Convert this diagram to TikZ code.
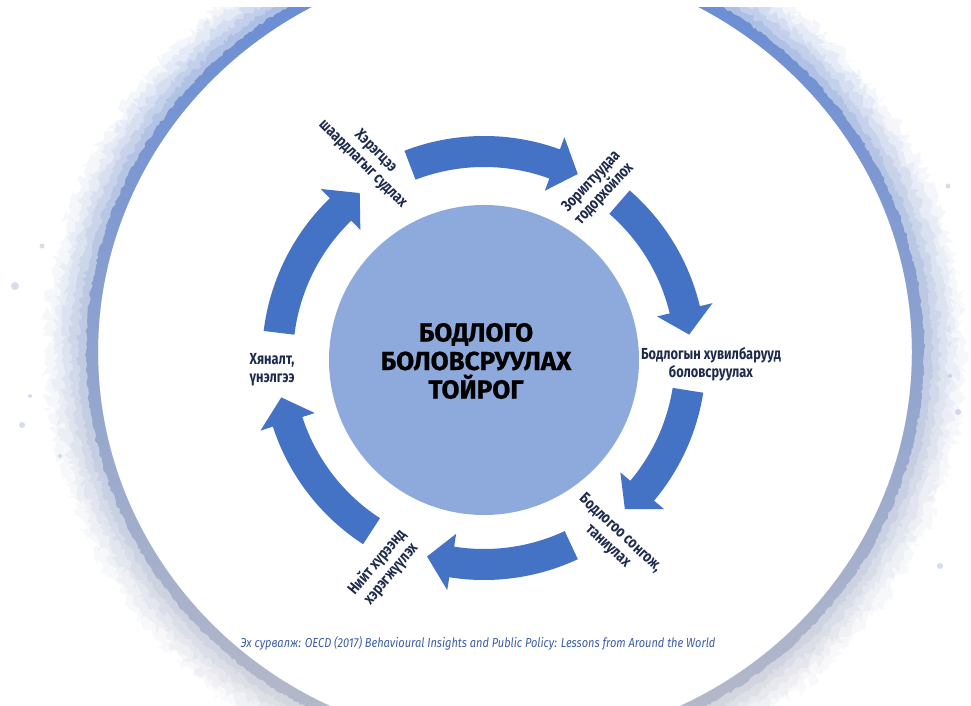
\documentclass[tikz,border=0pt]{standalone}
\usepackage{fontspec}
\setmainfont{Fira Sans}
\newfontfamily\srcfont{Fira Sans}[FakeStretch=0.85]
\newfontfamily\lblfont{Fira Sans}[FakeStretch=0.8]
\newfontfamily\titlefont{Fira Sans}[BoldFeatures={FakeBold=0.8}]
\usetikzlibrary{decorations.pathmorphing}
\definecolor{arrowblue}{HTML}{4472C4}
\definecolor{circleblue}{HTML}{8EA9DB}
\definecolor{labelnavy}{HTML}{1F2B4D}
\definecolor{srcblue}{HTML}{3D5EA8}
\definecolor{ringtop}{HTML}{5F85D3}
\definecolor{ringmid}{HTML}{8A9ECB}
\definecolor{ringbot}{HTML}{B6B9C6}
\newcommand{\cycarrow}[2]{%
  \fill[cyc] (#1:222) arc[start angle=#1, end angle={#2+7}, radius=222]
    -- ({#2+7}:235) -- (#2:206.5) -- ({#2+7}:178) -- ({#2+7}:191)
    arc[start angle={#2+7}, end angle=#1, radius=191] -- cycle;}
\begin{document}
\begin{tikzpicture}[x=1pt,y=1pt,
  lbl/.style={font=\lblfont\bfseries\fontsize{16}{18}\selectfont, text=labelnavy, align=center, inner sep=0pt},
  cyc/.style={fill=arrowblue, draw=none},
  splat/.style={fill=ringmid, opacity=0.35, draw=none}]
\useasboundingbox (0,0) rectangle (971,706);
\fill[white] (0,0) rectangle (971,706);
\pgfmathsetseed{11}
% watercolour ring
\begin{scope}
\clip (0,0) rectangle (971,698);
\foreach \dr/\op/\amp in {52/0.08/6, 44/0.10/5, 36/0.13/4, 28/0.16/3, 20/0.22/2.5, 12/0.9/1.2} {
  \shade[even odd rule, opacity=\op, top color=ringtop, middle color=ringmid, bottom color=ringbot]
    decorate[decoration={random steps, segment length=3pt, amplitude=\amp pt}]
      {(505,354) ellipse [x radius={407+\dr}, y radius={392+\dr*0.95}]}
    (505,354) ellipse [x radius=407, y radius=392];
}
\end{scope}
% splatter
\fill[splat] (22,281) circle (3);
\fill[splat] (30,310) circle (2);
\fill[splat] (15,420) circle (4);
\fill[splat] (42,460) circle (2.5);
\fill[splat] (60,250) circle (2);
\fill[splat] (958,294) circle (3);
\fill[splat] (950,330) circle (2);
\fill[splat] (948,520) circle (2.5);
\fill[splat] (940,140) circle (3);
\fill[splat] (905,470) circle (2);
% centre circle and title
\node[circle, fill=circleblue, minimum size=310pt, inner sep=0pt] (hub) at (484,346) {};
\node[font=\titlefont\bfseries\fontsize{26}{28.5}\selectfont, align=center, text=black, inner sep=0pt] (title) at (476,345) {БОДЛОГО\\БОЛОВСРУУЛАХ\\ТОЙРОГ};
% cycle arrows
\begin{scope}[shift={(484,348)}]
\cycarrow{111}{63}
\cycarrow{49}{6.5}
\cycarrow{-9}{-47}
\cycarrow{-65}{-106}
\cycarrow{-123}{-169}
\cycarrow{173}{127}
\end{scope}
% stage labels
\node[lbl, rotate=-45] (s1) at (369,548) {Хэрэгцээ\\шаардлагыг судлах};
\node[lbl, rotate=47] (s2) at (598,518) {Зорилтуудаа\\тодорхойлох};
\node[lbl] (s3) at (711,342) {Бодлогын хувилбарууд\\боловсруулах};
\node[lbl, rotate=-43] (s4) at (614,166) {Бодлогоо сонгож,\\таниулах};
\node[lbl, rotate=50] (s5) at (384,138) {Нийт хүрээнд\\хэрэгжүүлэх};
\node[lbl] (s6) at (272,336) {Хяналт,\\үнэлгээ};
% source
\node[font=\srcfont\itshape\fontsize{13}{15}\selectfont, text=srcblue, inner sep=0pt] (src) at (478,63)
  {Эх сурвалж: OECD (2017) Behavioural Insights and Public Policy: Lessons from Around the World};
\end{tikzpicture}
\end{document}
